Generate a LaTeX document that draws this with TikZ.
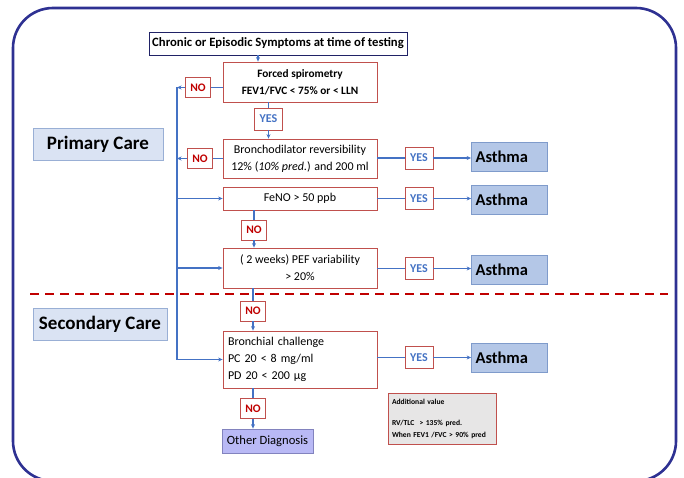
\documentclass[tikz,border=0pt]{standalone}
\usepackage{fontspec}
\setmainfont{Carlito}
\usepackage{tikz}
\usetikzlibrary{arrows.meta, positioning, calc}
\definecolor{gmnavy}{HTML}{2E3192}
\definecolor{gmblue}{HTML}{4472C4}
\definecolor{gmred}{HTML}{C0504D}
\definecolor{gmdark}{HTML}{C00000}
\definecolor{gmsteel}{HTML}{B4C7E7}
\definecolor{gmslate}{HTML}{7F9BCB}
\definecolor{gmpale}{HTML}{DAE3F3}
\definecolor{gmlilac}{HTML}{B9B9F5}
\definecolor{gmgrey}{HTML}{E7E6E6}

\begin{document}
\begin{tikzpicture}[
    x=1pt, y=-1pt,
    frame/.style={draw=gmnavy, line width=2.6pt, rounded corners=40pt},
    startbox/.style={rectangle, draw=gmnavy!70!black, fill=white, line width=0.7pt, minimum width=258pt, minimum height=23pt, inner sep=0pt, font=\fontsize{12.7}{14}\selectfont\bfseries},
    test/.style={rectangle, draw=gmred, fill=white, line width=0.8pt, minimum width=154pt, align=center, inner sep=2pt, font=\fontsize{12}{17}\selectfont},
    no/.style={rectangle, draw=gmred, fill=white, line width=0.8pt, minimum width=25pt, minimum height=20pt, inner sep=0pt, text=gmdark, font=\fontsize{11.5}{13}\selectfont\bfseries},
    yes/.style={no, minimum width=28pt, minimum height=22pt, text=gmblue, font=\fontsize{12}{13}\selectfont\bfseries},
    asthma/.style={rectangle, draw=gmslate, fill=gmsteel, line width=0.8pt, minimum width=76pt, minimum height=29pt, inner sep=0pt, text width=68pt, align=left, font=\fontsize{16.5}{18}\selectfont\bfseries},
    care/.style={rectangle, draw=gmslate!80, fill=gmpale, line width=0.8pt, minimum width=130pt, minimum height=32pt, inner sep=0pt, font=\fontsize{19}{21}\selectfont\bfseries},
    other/.style={rectangle, draw=gmnavy!60, fill=gmlilac, line width=0.8pt, minimum width=91pt, minimum height=24pt, inner sep=0pt, font=\fontsize{12.6}{14}\selectfont},
    note/.style={rectangle, draw=gmred, fill=gmgrey, line width=0.8pt, minimum width=108pt, minimum height=51pt, inner xsep=4pt, text width=100pt, align=left, font=\fontsize{7.6}{12}\selectfont\bfseries},
    line/.style={gmblue, line width=1.2pt},
    arrow/.style={-{Stealth[length=4.5pt,width=4pt]}, line width=1.2pt, gmblue},
    cut/.style={gmdark, line width=2.4pt, dash pattern=on 9pt off 6pt}
]
\useasboundingbox (0,0) rectangle (684,478);

% Frame
\draw[frame] (13,8) rectangle (676,481);

% Care levels
\node[care] (primary) at (98,144) {Primary Care};
\node[care, minimum width=134pt] (secondary) at (100,324) {Secondary Care};
\coordinate (cut_l) at (30,294);
\coordinate (cut_r) at (668,294);
\draw[cut] (cut_l) -- (cut_r);

% Start
\node[startbox] (symptoms) at (278,43.5) {Chronic or Episodic Symptoms at time of testing};

% Primary care tests
\node[test, minimum height=40pt, font=\fontsize{11.3}{17}\selectfont\bfseries] (spiro) at (300,82) {Forced spirometry\\FEV1/FVC < 75\% or < LLN};
\node[no] (spiro_no) at (198,87.5) {NO};
\node[yes] (spiro_yes) at (268.5,119) {YES};

\node[test, minimum height=39pt] (bronch) at (300,158.5) {Bronchodilator reversibility\\12\% (\textit{10\% pred.}) and 200 ml};
\node[no] (bronch_no) at (200,158.5) {NO};
\node[yes] (bronch_yes) at (419,158) {YES};
\node[asthma] (bronch_dx) at (509.5,157) {Asthma};

\node[test, minimum height=23pt] (feno) at (300,198.5) {FeNO > 50 ppb};
\node[yes] (feno_yes) at (419,198.5) {YES};
\node[asthma] (feno_dx) at (509.5,199.5) {Asthma};
\node[no] (feno_no) at (254,230) {NO};

\node[test, minimum height=40pt] (pef) at (300,268) {( 2 weeks) PEF variability\\> 20\%};
\node[yes] (pef_yes) at (419,268.5) {YES};
\node[asthma] (pef_dx) at (509.5,270) {Asthma};

% Secondary care tests
\node[no] (pef_no) at (253,311) {NO};
\node[test, minimum height=57pt, inner xsep=5pt, text width=144pt, align=left] (chall) at (300,359.5) {Bronchial challenge\\PC 20 < 8 mg/ml\\PD 20 < 200 µg};
\node[yes] (chall_yes) at (419,357.5) {YES};
\node[asthma] (chall_dx) at (509.5,357.5) {Asthma};
\node[no] (chall_no) at (253,408.5) {NO};
\node[other] (other_dx) at (267.5,441) {Other Diagnosis};
\node[note] (extra) at (442,418.5) {Additional value\\[9pt]RV/TLC\ \ > 135\% pred.\\When FEV1 /FVC > 90\% pred};

% Trunk on the left
\coordinate (trunk_top) at (177,87.5);
\coordinate (trunk_bot) at (177,359.5);

% Edges
\draw[arrow] ([xshift=-20pt]symptoms.south) -- ([xshift=-20pt]symptoms.south |- spiro.north);
\draw[line] (spiro.south -| spiro_yes) -- (spiro_yes);
\draw[arrow] (spiro_yes) -- (spiro_yes |- bronch.north);
\draw[line] (spiro.west |- spiro_no) -- (spiro_no);
\draw[arrow] (spiro_no) -- (trunk_top);
\draw[line] (bronch.west |- bronch_no) -- (bronch_no);
\draw[arrow] (bronch_no) -- (bronch_no -| trunk_top);
\draw[line] (trunk_top) -- (trunk_bot);
\draw[arrow] (trunk_top |- feno) -- (feno);
\draw[arrow] (trunk_top |- pef) -- (pef);
\draw[arrow] (trunk_bot) -- (chall);

\draw[line] (feno.south -| feno_no) -- (feno_no);
\draw[arrow] (feno_no) -- (feno_no |- pef.north);
\draw[line] (pef.south -| pef_no) -- (pef_no);
\draw[arrow] (pef_no) -- (pef_no |- chall.north);
\draw[line] (chall.south -| chall_no) -- (chall_no);
\draw[arrow] (chall_no) -- (chall_no |- other_dx.north);

\draw[line] (bronch.east |- bronch_yes) -- (bronch_yes);
\draw[arrow] (bronch_yes) -- (bronch_yes -| bronch_dx.west);
\draw[line] (feno.east |- feno_yes) -- (feno_yes);
\draw[arrow] (feno_yes) -- (feno_yes -| feno_dx.west);
\draw[line] (pef.east |- pef_yes) -- (pef_yes);
\draw[arrow] (pef_yes) -- (pef_yes -| pef_dx.west);
\draw[line] (chall.east |- chall_yes) -- (chall_yes);
\draw[arrow] (chall_yes) -- (chall_yes -| chall_dx.west);
\end{tikzpicture}
\end{document}
